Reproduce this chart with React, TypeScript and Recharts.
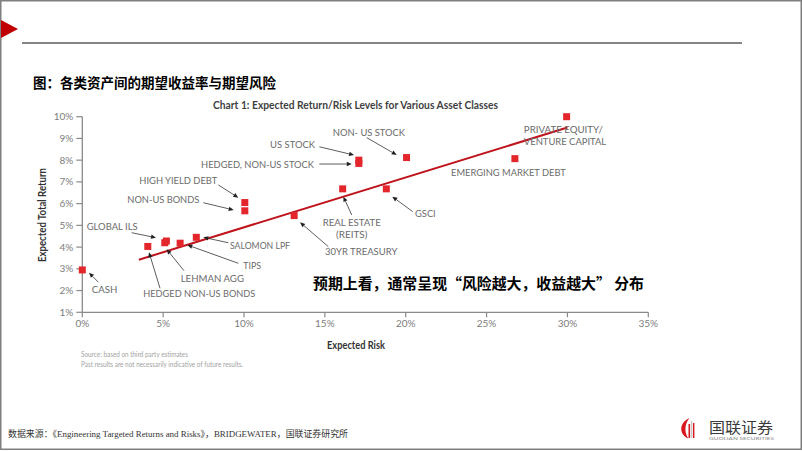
import React from 'react';
import { ScatterChart, Scatter, XAxis, YAxis, ReferenceLine } from 'recharts';

// ---------- data ----------
const assetNames = [
  'CASH',
  'HEDGED NON-US BONDS',
  'LEHMAN AGG',
  'GLOBAL ILS',
  'TIPS',
  'SALOMON LPF',
  'NON-US BONDS',
  'HIGH YIELD DEBT',
  '30YR TREASURY',
  'REAL ESTATE (REITS)',
  'HEDGED, NON-US STOCK',
  'US STOCK',
  'GSCI',
  'NON- US STOCK',
  'EMERGING MARKET DEBT',
  'PRIVATE EQUITY/VENTURE CAPITAL',
];
const expectedRisk = [0.0, 4.05, 5.1, 5.2, 6.05, 7.05, 10.05, 10.05, 13.1, 16.1, 17.1, 17.1, 18.8, 20.05, 26.75, 29.95];
const expectedReturn = [2.95, 4.03, 4.2, 4.28, 4.18, 4.45, 5.67, 6.05, 5.45, 6.68, 7.85, 8.0, 6.68, 8.12, 8.07, 10.0];

const xTicks = [0, 5, 10, 15, 20, 25, 30, 35];
const yTicks = [1, 2, 3, 4, 5, 6, 7, 8, 9, 10];

const trendRisk = [3.5, 30];
const trendReturn = [3.42, 9.5];

// ---------- annotation layout (pixel offsets from each point) ----------
type Ann = {
  lines: string[];
  widths: number[];
  tx: number;
  ty: number;
  anchor?: 'start' | 'middle';
  arrow?: [number, number, number, number];
};
const annotations: Record<string, Ann> = {
  'CASH': { lines: ['CASH'], widths: [25.6], tx: 9.4, ty: 19.8, arrow: [16, 12.2, 6.7, 2.8] },
  'HEDGED NON-US BONDS': { lines: ['HEDGED NON-US BONDS'], widths: [112], tx: -4.5, ty: 46.8, arrow: [12.2, 41.8, 1.2, 5.8] },
  'LEHMAN AGG': { lines: ['LEHMAN AGG'], widths: [63.3], tx: 15.9, ty: 35.5, arrow: [19.2, 27.9, 1.9, 6.5] },
  'TIPS': { lines: ['TIPS'], widths: [17.7], tx: 63.2, ty: 22.5, arrow: [58.2, 20.1, 7.2, 1.8] },
  'SALOMON LPF': { lines: ['SALOMON LPF'], widths: [60], tx: 33.7, ty: 7.7, arrow: [32, 5.4, 7, 0] },
  'GLOBAL ILS': { lines: ['GLOBAL ILS'], widths: [51], tx: -79.7, ty: -14.3, arrow: [-34.7, -8.3, -10.4, -3.3] },
  'NON-US BONDS': { lines: ['NON-US BONDS'], widths: [72], tx: -117.5, ty: -11.8, arrow: [-41.5, -8.1, -11.1, -0.8] },
  'HIGH YIELD DEBT': { lines: ['HIGH YIELD DEBT'], widths: [78], tx: -105.5, ty: -22.6, arrow: [-26.5, -17.6, -6.5, -4.9] },
  '30YR TREASURY': { lines: ['30YR TREASURY'], widths: [72.3], tx: 30.9, ty: 36.1, arrow: [34.2, 31.1, 5.9, 6.7] },
  'REAL ESTATE (REITS)': { lines: ['REAL ESTATE', '(REITS)'], widths: [58, 31.3], tx: 9.1, ty: 33.1, anchor: 'middle', arrow: [9.1, 26.1, 0.7, 7.8] },
  'HEDGED, NON-US STOCK': { lines: ['HEDGED, NON-US STOCK'], widths: [113], tx: -157.8, ty: 0.9, arrow: [-39.5, 0.6, -7.1, 0.6] },
  'US STOCK': { lines: ['US STOCK'], widths: [45], tx: -88.8, ty: -15.8, arrow: [-39.5, -13.4, -4.8, -5.1] },
  'GSCI': { lines: ['GSCI'], widths: [20.7], tx: 28.7, ty: 24.4, arrow: [26.4, 22.8, 6, 7.8] },
  'NON- US STOCK': { lines: ['NON- US STOCK'], widths: [72.3], tx: -73.8, ty: -25.3, arrow: [-39.8, -19.9, -9.8, -2.6] },
  'EMERGING MARKET DEBT': { lines: ['EMERGING MARKET DEBT'], widths: [114.7], tx: -63.8, ty: 13.6 },
  'PRIVATE EQUITY/VENTURE CAPITAL': { lines: ['PRIVATE EQUITY/', 'VENTURE CAPITAL'], widths: [79, 82.4], tx: -42.8, ty: 12.6 },
};

const data = assetNames.map((name, i) => ({ name, risk: expectedRisk[i], ret: expectedReturn[i] }));

const LABEL_COLOR = '#6b6b6b';
const POINT_COLOR = '#e3262b';
const LINE_COLOR = '#c0141c';

const SquareShape = (props: any) => {
  const { cx, cy } = props;
  if (cx == null || cy == null) return null;
  return <rect x={cx - 3.5} y={cy - 3.5} width={7} height={7} fill={POINT_COLOR} />;
};

const Arrow = ({ x1, y1, x2, y2 }: { x1: number; y1: number; x2: number; y2: number }) => {
  const dx = x2 - x1;
  const dy = y2 - y1;
  const len = Math.sqrt(dx * dx + dy * dy) || 1;
  const ux = dx / len;
  const uy = dy / len;
  const hl = 5;
  const hw = 2.2;
  const bx = x2 - ux * hl;
  const by = y2 - uy * hl;
  const p1 = `${x2},${y2}`;
  const p2 = `${bx - uy * hw},${by + ux * hw}`;
  const p3 = `${bx + uy * hw},${by - ux * hw}`;
  return (
    <g>
      <line x1={x1} y1={y1} x2={bx} y2={by} stroke="#333" strokeWidth={0.8} />
      <polygon points={`${p1} ${p2} ${p3}`} fill="#222" />
    </g>
  );
};

const LabelShape = (props: any) => {
  const { cx, cy, payload } = props;
  if (cx == null || cy == null || !payload) return null;
  const a = annotations[payload.name];
  if (!a) return null;
  return (
    <g>
      {a.lines.map((ln, k) => (
        <text
          key={k}
          x={cx + a.tx}
          y={cy + a.ty + k * 12 + 3.6}
          fontSize={10}
          fontFamily="Lato, 'Open Sans', sans-serif"
          fill={LABEL_COLOR}
          textAnchor={a.anchor || 'start'}
          textLength={a.widths[k]}
          lengthAdjust="spacingAndGlyphs"
        >
          {ln}
        </text>
      ))}
      {a.arrow && <Arrow x1={cx + a.arrow[0]} y1={cy + a.arrow[1]} x2={cx + a.arrow[2]} y2={cy + a.arrow[3]} />}
    </g>
  );
};

const tickStyle = { fontSize: 10, fill: '#7d7d7d', fontFamily: "Lato, 'Open Sans', sans-serif" };

export default function App() {
  return (
    <div style={{ position: 'absolute', left: 0, top: 0, width: 802, height: 451, background: '#fff', overflow: 'hidden' }}>
      <div style={{ position: 'absolute', left: 0, top: 0 }}>
        <ScatterChart width={802} height={451} margin={{ top: 116.7, right: 153.7, bottom: 108.7, left: 22.3 }}>
          <XAxis
            type="number"
            dataKey="risk"
            domain={[0, 35]}
            ticks={xTicks}
            tickFormatter={(v: number) => `${v}%`}
            tick={tickStyle}
            tickSize={5}
            tickMargin={3}
            height={30}
            axisLine={{ stroke: '#8a8a8a', strokeWidth: 1.3 }}
            tickLine={{ stroke: '#8a8a8a', strokeWidth: 1.2 }}
          />
          <YAxis
            type="number"
            dataKey="ret"
            domain={[1, 10]}
            ticks={yTicks}
            tickFormatter={(v: number) => `${v}%`}
            tick={tickStyle}
            tickSize={6}
            tickMargin={3}
            width={60}
            axisLine={{ stroke: '#8a8a8a', strokeWidth: 1.3 }}
            tickLine={{ stroke: '#8a8a8a', strokeWidth: 1.2 }}
          />
          <ReferenceLine
            segment={[
              { x: trendRisk[0], y: trendReturn[0] },
              { x: trendRisk[1], y: trendReturn[1] },
            ]}
            stroke={LINE_COLOR}
            strokeWidth={2}
            ifOverflow="visible"
          />
          <Scatter data={data} shape={LabelShape} isAnimationActive={false} />
          <Scatter data={data} shape={SquareShape} isAnimationActive={false} />
        </ScatterChart>
      </div>
      <svg
        width={802}
        height={451}
        style={{ position: 'absolute', left: 0, top: 0, pointerEvents: 'none' }}
      >
        {/* frame */}
        <rect x={0.75} y={0.75} width={800.5} height={448.5} fill="none" stroke="#7f7f7f" strokeWidth={1.5} />
        {/* red triangle */}
        <polygon points="1,20 1,38 18,29" fill="#c00000" />
        {/* header rule */}
        <line x1={22} y1={43} x2={742} y2={43} stroke="#858585" strokeWidth={2} />
        {/* Chinese figure title */}
        <text
          x={33}
          y={87.8}
          fontSize={13.5}
          fontWeight="bold"
          fontFamily="'Noto Sans CJK SC', sans-serif"
          fill="#000"
          textLength={243}
          lengthAdjust="spacingAndGlyphs"
        >
          图：各类资产间的期望收益率与期望风险
        </text>
        {/* chart title */}
        <text
          x={213}
          y={109.3}
          fontSize={11}
          fontWeight="bold"
          fontFamily="Lato, 'Open Sans', sans-serif"
          fill="#3f3f3f"
          textLength={285}
          lengthAdjust="spacingAndGlyphs"
        >
          Chart 1: Expected Return/Risk Levels for Various Asset Classes
        </text>
        {/* y axis title */}
        <text
          x={0}
          y={0}
          transform="translate(45.5,215) rotate(-90)"
          fontSize={10.5}
          fontWeight="bold"
          fontFamily="Lato, 'Open Sans', sans-serif"
          fill="#333"
          textAnchor="middle"
          textLength={94}
          lengthAdjust="spacingAndGlyphs"
        >
          Expected Total Return
        </text>
        {/* x axis title */}
        <text
          x={356}
          y={348.8}
          fontSize={10.5}
          fontWeight="bold"
          fontFamily="Lato, 'Open Sans', sans-serif"
          fill="#333"
          textAnchor="middle"
          textLength={58}
          lengthAdjust="spacingAndGlyphs"
        >
          Expected Risk
        </text>
        {/* source notes */}
        <text x={81} y={356.7} fontSize={7.5} fill="#a3a3a3" fontFamily="Lato, sans-serif" textLength={107} lengthAdjust="spacingAndGlyphs">
          Source: based on third party estimates
        </text>
        <text x={81} y={366.7} fontSize={7.5} fill="#a3a3a3" fontFamily="Lato, sans-serif" textLength={162} lengthAdjust="spacingAndGlyphs">
          Past results are not necessarily indicative of future results.
        </text>
        {/* Chinese annotation */}
        <text
          x={313}
          y={288.6}
          fontSize={15}
          fontWeight="bold"
          fontFamily="'Noto Sans CJK SC', sans-serif"
          fill="#000"
          textLength={331}
          lengthAdjust="spacingAndGlyphs"
        >
          预期上看，通常呈现“风险越大，收益越大” 分布
        </text>
        {/* footer */}
        <text
          x={8}
          y={437}
          fontSize={9}
          fontFamily="'Liberation Serif', 'Noto Sans CJK SC', serif"
          fill="#333"
          textLength={340}
          lengthAdjust="spacingAndGlyphs"
        >
          数据来源：《Engineering Targeted Returns and Risks》，BRIDGEWATER，国联证券研究所
        </text>
        {/* logo */}
        <path d="M689.5 418 C679 422.5, 678.5 434.5, 688.5 438.5 C684.5 433.5, 684 424.5, 689.5 418 Z" fill="#d7191f" />
        <rect x={688.5} y={424} width={1.6} height={14} fill="#d7191f" />
        <rect x={690.8} y={421} width={1.6} height={17} fill="#c9c9c9" />
        <rect x={693} y={423} width={1.4} height={15} fill="#d7191f" />
        <text
          x={709}
          y={432.5}
          fontSize={15}
          fontFamily="'Noto Sans CJK SC', sans-serif"
          fill="#3a3a3a"
          textLength={64}
          lengthAdjust="spacingAndGlyphs"
        >
          国联证券
        </text>
        <text x={709} y={440} fontSize={4.5} fill="#8a8a8a" fontFamily="Lato, sans-serif" textLength={65} lengthAdjust="spacingAndGlyphs">
          GUOLIAN SECURITIES
        </text>
      </svg>
    </div>
  );
}
